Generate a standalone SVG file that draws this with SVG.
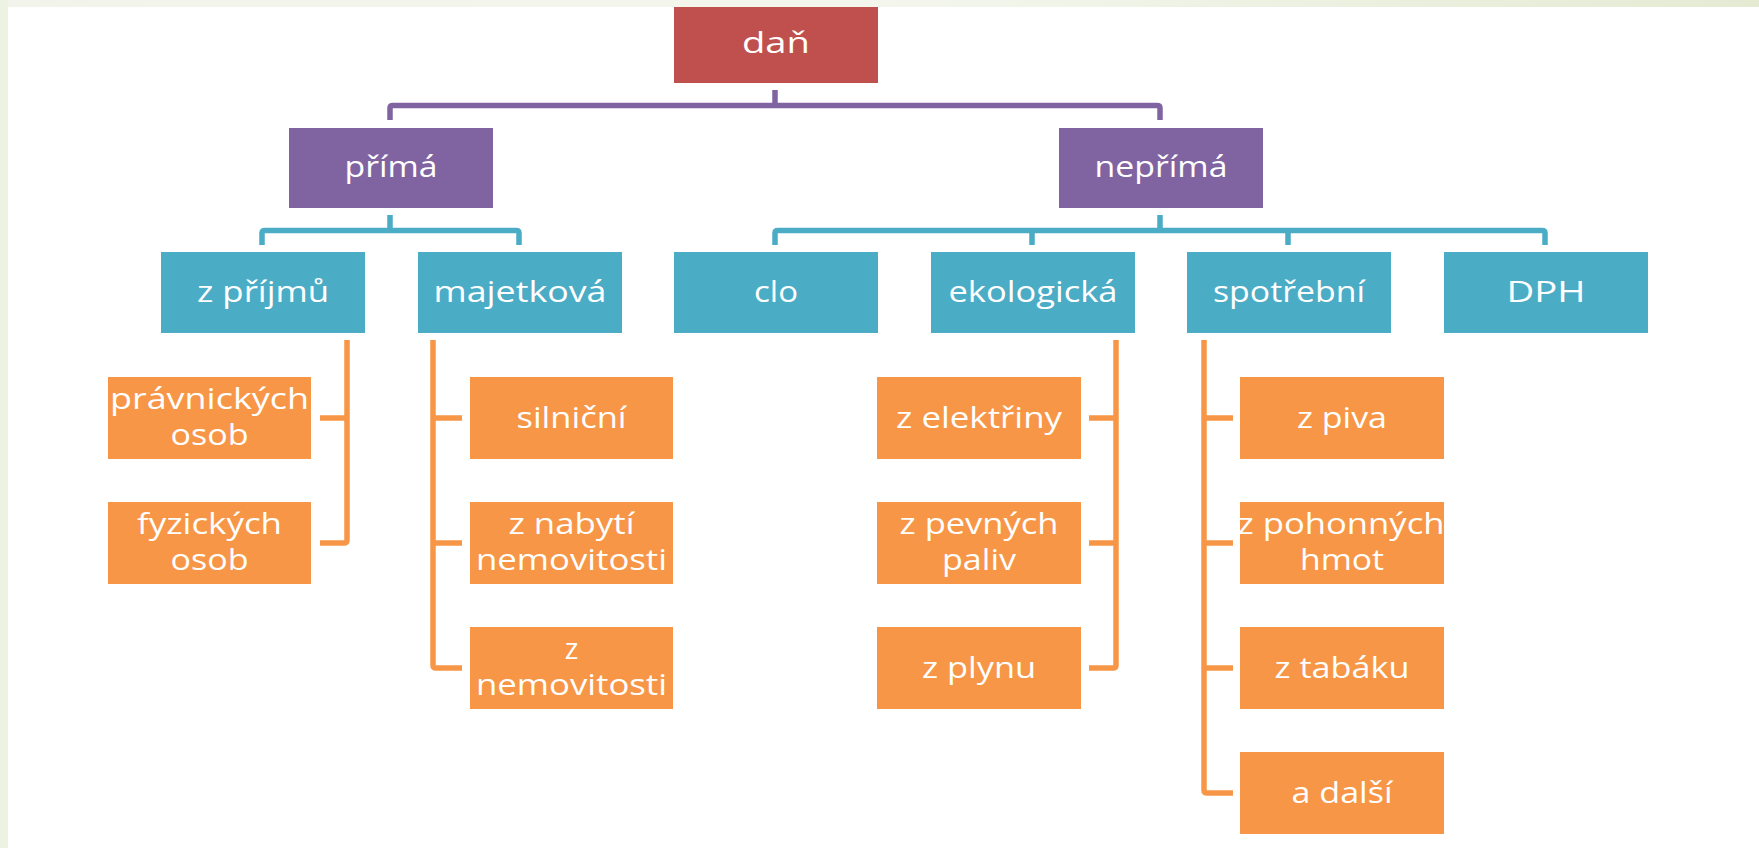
<svg xmlns="http://www.w3.org/2000/svg" width="1759" height="848" viewBox="0 0 1759 848">
<defs>
<linearGradient id="topbar" x1="0" y1="0" x2="1" y2="0">
<stop offset="0" stop-color="#F2F4EC"/>
<stop offset="0.5" stop-color="#F4F6EE"/>
<stop offset="1" stop-color="#E4EBD3"/>
</linearGradient>
<style>
.lbl{font-family:"Open Sans","Liberation Sans",sans-serif;font-size:29px;fill:#FFFFFF;text-anchor:middle}
.red{fill:#C0504D}
.pur{fill:#8064A2}
.blu{fill:#4BACC6}
.org{fill:#F79646}
.conn{fill:none;stroke-width:5.5;stroke-linejoin:round;stroke-linecap:butt}
.cp{stroke:#8064A2}
.cb{stroke:#4BACC6}
.co{stroke:#F79646}
</style>
</defs>
<rect x="0" y="0" width="1759" height="848" fill="#FFFFFF"/>
<rect x="0" y="0" width="1759" height="7" fill="url(#topbar)"/>
<rect x="0" y="0" width="8" height="848" fill="#EEF2E3"/>

<g id="connectors">
<path class="conn cp" d="M775,90 V105.5 M390,120 V108 Q390,105.5 393,105.5 H1157 Q1160,105.5 1160,108 V120"/>
<path class="conn cb" d="M390,215 V230.5 M262,245 V233 Q262,230.5 265,230.5 H516 Q519,230.5 519,233 V245"/>
<path class="conn cb" d="M1160,215 V230.5 M775,245 V233 Q775,230.5 778,230.5 H1542 Q1545,230.5 1545,233 V245 M1032,230.5 V245 M1288,230.5 V245"/>
<path class="conn co" d="M347,340 V540 Q347,543 344,543 H320 M320,418 H347"/>
<path class="conn co" d="M433,340 V665 Q433,668 436,668 H462 M433,418 H462 M433,543 H462"/>
<path class="conn co" d="M1116,340 V665 Q1116,668 1113,668 H1089 M1089,418 H1116 M1089,543 H1116"/>
<path class="conn co" d="M1204,340 V790 Q1204,793 1207,793 H1233 M1204,418 H1233 M1204,543 H1233 M1204,668 H1233"/>
</g>

<g id="n-dan"><rect class="red" x="674" y="7" width="204" height="76"/><text class="lbl" x="776" y="53" textLength="68" lengthAdjust="spacingAndGlyphs">daň</text></g>
<g id="n-prima"><rect class="pur" x="289" y="128" width="204" height="80"/><text class="lbl" x="391" y="177" textLength="93" lengthAdjust="spacingAndGlyphs">přímá</text></g>
<g id="n-neprima"><rect class="pur" x="1059" y="128" width="204" height="80"/><text class="lbl" x="1161" y="177" textLength="133" lengthAdjust="spacingAndGlyphs">nepřímá</text></g>

<g id="n-zprijmu"><rect class="blu" x="161" y="252" width="204" height="81"/><text class="lbl" x="263" y="302" textLength="132" lengthAdjust="spacingAndGlyphs">z příjmů</text></g>
<g id="n-majetkova"><rect class="blu" x="418" y="252" width="204" height="81"/><text class="lbl" x="520" y="302" textLength="173" lengthAdjust="spacingAndGlyphs">majetková</text></g>
<g id="n-clo"><rect class="blu" x="674" y="252" width="204" height="81"/><text class="lbl" x="776" y="302" textLength="44" lengthAdjust="spacingAndGlyphs">clo</text></g>
<g id="n-ekologicka"><rect class="blu" x="931" y="252" width="204" height="81"/><text class="lbl" x="1033" y="302" textLength="169" lengthAdjust="spacingAndGlyphs">ekologická</text></g>
<g id="n-spotrebni"><rect class="blu" x="1187" y="252" width="204" height="81"/><text class="lbl" x="1289" y="302" textLength="152" lengthAdjust="spacingAndGlyphs">spotřební</text></g>
<g id="n-dph"><rect class="blu" x="1444" y="252" width="204" height="81"/><text class="lbl" x="1546" y="302" textLength="79" lengthAdjust="spacingAndGlyphs">DPH</text></g>

<g id="n-pravnickych"><rect class="org" x="108" y="377" width="203" height="82"/><text class="lbl" x="209.5" y="409" textLength="199" lengthAdjust="spacingAndGlyphs">právnických</text><text class="lbl" x="209.5" y="445" textLength="78" lengthAdjust="spacingAndGlyphs">osob</text></g>
<g id="n-fyzickych"><rect class="org" x="108" y="502" width="203" height="82"/><text class="lbl" x="209.5" y="534" textLength="145" lengthAdjust="spacingAndGlyphs">fyzických</text><text class="lbl" x="209.5" y="570" textLength="78" lengthAdjust="spacingAndGlyphs">osob</text></g>

<g id="n-silnicni"><rect class="org" x="470" y="377" width="203" height="82"/><text class="lbl" x="571.5" y="427.5" textLength="110" lengthAdjust="spacingAndGlyphs">silniční</text></g>
<g id="n-nabyti"><rect class="org" x="470" y="502" width="203" height="82"/><text class="lbl" x="571.5" y="534" textLength="126" lengthAdjust="spacingAndGlyphs">z nabytí</text><text class="lbl" x="571.5" y="570" textLength="191" lengthAdjust="spacingAndGlyphs">nemovitosti</text></g>
<g id="n-znemovitosti"><rect class="org" x="470" y="627" width="203" height="82"/><text class="lbl" x="571.5" y="659">z</text><text class="lbl" x="571.5" y="695" textLength="191" lengthAdjust="spacingAndGlyphs">nemovitosti</text></g>

<g id="n-elektriny"><rect class="org" x="877" y="377" width="204" height="82"/><text class="lbl" x="979" y="427.5" textLength="166" lengthAdjust="spacingAndGlyphs">z elektřiny</text></g>
<g id="n-paliv"><rect class="org" x="877" y="502" width="204" height="82"/><text class="lbl" x="979" y="534" textLength="159" lengthAdjust="spacingAndGlyphs">z pevných</text><text class="lbl" x="979" y="570" textLength="74" lengthAdjust="spacingAndGlyphs">paliv</text></g>
<g id="n-plynu"><rect class="org" x="877" y="627" width="204" height="82"/><text class="lbl" x="979" y="677.5" textLength="114" lengthAdjust="spacingAndGlyphs">z plynu</text></g>

<g id="n-piva"><rect class="org" x="1240" y="377" width="204" height="82"/><text class="lbl" x="1342" y="427.5" textLength="90" lengthAdjust="spacingAndGlyphs">z piva</text></g>
<g id="n-pohonnych"><rect class="org" x="1240" y="502" width="204" height="82"/><text class="lbl" x="1341" y="534" textLength="207" lengthAdjust="spacingAndGlyphs">z pohonných</text><text class="lbl" x="1342" y="570" textLength="84" lengthAdjust="spacingAndGlyphs">hmot</text></g>
<g id="n-tabaku"><rect class="org" x="1240" y="627" width="204" height="82"/><text class="lbl" x="1342" y="677.5" textLength="135" lengthAdjust="spacingAndGlyphs">z tabáku</text></g>
<g id="n-dalsi"><rect class="org" x="1240" y="752" width="204" height="82"/><text class="lbl" x="1342" y="802.5" textLength="101" lengthAdjust="spacingAndGlyphs">a další</text></g>
</svg>
